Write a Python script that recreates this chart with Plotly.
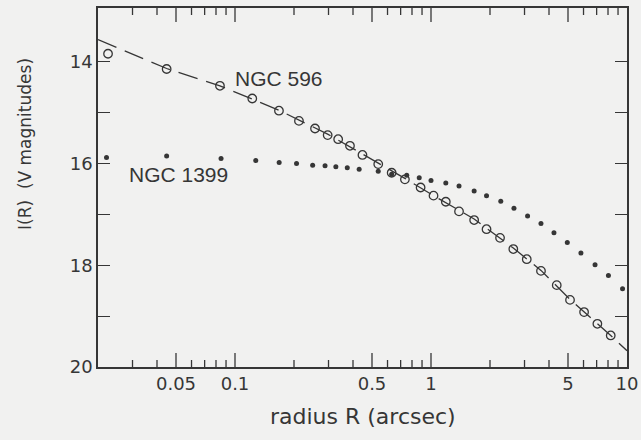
import numpy as np
import plotly.graph_objects as go

# ---- data ----
ngc596_r = [0.0225, 0.0448, 0.0838, 0.1225, 0.1676, 0.212, 0.256, 0.297, 0.336, 0.386, 0.447,
            0.538, 0.63, 0.736, 0.885, 1.03, 1.19, 1.39, 1.66, 1.92, 2.25, 2.63, 3.08, 3.64,
            4.38, 5.12, 6.04, 7.06, 8.26]
ngc596_mag = [13.84, 14.14, 14.47, 14.72, 14.96, 15.16, 15.31, 15.44, 15.52, 15.65, 15.83,
              16.01, 16.18, 16.31, 16.47, 16.63, 16.75, 16.94, 17.11, 17.29, 17.46, 17.68, 17.88, 18.11,
              18.39, 18.68, 18.92, 19.15, 19.38]

fit596_r = [0.02, 0.0448, 0.0838, 0.1676, 0.297, 0.447, 0.736, 1.02, 1.66, 2.63, 3.64, 5.12, 7.06, 8.26, 10.0]
fit596_mag = [13.56, 14.13, 14.47, 14.95, 15.42, 15.81, 16.29, 16.62, 17.09, 17.66, 18.10, 18.67, 19.14, 19.38, 19.68]

ngc1399_r = [0.0221, 0.0448, 0.0849, 0.1276, 0.168, 0.206, 0.249, 0.288, 0.327, 0.374, 0.43,
             0.538, 0.63, 0.752, 0.871, 1.0, 1.19, 1.39, 1.66, 1.92, 2.27, 2.65, 3.11, 3.64,
             4.24, 4.96, 5.82, 6.87, 8.04, 9.49]
ngc1399_mag = [15.88, 15.85, 15.90, 15.94, 15.98, 16.00, 16.03, 16.04, 16.06, 16.08, 16.11,
               16.15, 16.21, 16.23, 16.28, 16.33, 16.38, 16.44, 16.54, 16.63, 16.74, 16.88, 17.03, 17.18,
               17.36, 17.55, 17.76, 17.99, 18.20, 18.46]

x_major = [0.05, 0.1, 0.5, 1, 5, 10]
x_major_text = ["0.05", "0.1", "0.5", "1", "5", "10"]
x_minor = [0.03, 0.04, 0.06, 0.07, 0.08, 0.09, 0.2, 0.3, 0.4, 0.6, 0.7, 0.8, 0.9,
           2, 3, 4, 6, 7, 8, 9]
y_ticks = [14, 15, 16, 17, 18, 19, 20]
y_text = ["14", "", "16", "", "18", "", "20"]

INK = "#363636"
BG = "#f1f1f0"
AG = "DejaVu Sans"
HV = "Liberation Sans, Arial"

L, R, T, B = 98, 14, 8, 73
W, H = 641, 440
pw, ph = W - L - R, H - T - B
xr = [np.log10(0.02), 1.0]
yr = [20, 12.94]
px_per_mag = ph / (yr[0] - yr[1])

# x tick marks (inside, bottom and top) drawn through the axis scales from the tick lists
tick_x, tick_y = [], []
for vals, length_px in ((x_major[:-1], 14), (x_minor, 7)):
    d = length_px / px_per_mag
    for v in vals:
        tick_x += [v, v, None, v, v, None]
        tick_y += [yr[0], yr[0] - d, None, yr[1], yr[1] + d, None]

fig = go.Figure()
fig.add_trace(go.Scatter(x=tick_x, y=tick_y, mode="lines", line=dict(color=INK, width=1.3),
                         showlegend=False, hoverinfo="skip", cliponaxis=False))
fig.add_trace(go.Scatter(x=fit596_r, y=fit596_mag, mode="lines",
                         line=dict(color=INK, width=1.3, dash="20px,9px"),
                         showlegend=False, hoverinfo="skip"))
fig.add_trace(go.Scatter(x=ngc596_r, y=ngc596_mag, mode="markers",
                         marker=dict(symbol="circle-open", size=8.5, color=INK, line=dict(width=1.3, color=INK)),
                         showlegend=False))
fig.add_trace(go.Scatter(x=ngc1399_r, y=ngc1399_mag, mode="markers",
                         marker=dict(symbol="circle", size=5, color=INK),
                         showlegend=False))

fig.update_layout(
    template="none",
    width=W, height=H, autosize=False,
    margin=dict(l=L, r=R, t=T, b=B, pad=0),
    paper_bgcolor=BG, plot_bgcolor=BG,
    xaxis=dict(type="log", range=xr, showgrid=False, zeroline=False,
               showline=True, linecolor=INK, linewidth=1.5, mirror=True,
               ticks="", tickmode="array", tickvals=x_major, ticktext=x_major_text,
               tickfont=dict(family=AG, size=18, color=INK)),
    yaxis=dict(range=yr, showgrid=False, zeroline=False,
               showline=True, linecolor=INK, linewidth=1.5, mirror="allticks",
               ticks="inside", ticklen=12, tickwidth=1.3, tickcolor=INK,
               tickmode="array", tickvals=y_ticks, ticktext=y_text,
               tickfont=dict(family=AG, size=18, color=INK)),
    annotations=[
        dict(text="radius R (arcsec)", xref="paper", yref="paper",
             x=0.5, y=-(416 - (H - B)) / ph, xanchor="center", yanchor="middle",
             showarrow=False, font=dict(family=AG, size=22, color=INK)),
        dict(text="I(R)  (V magnitudes)", xref="paper", yref="paper",
             x=(25 - L) / pw, y=((H - B) - 144) / ph, xanchor="center", yanchor="middle",
             textangle=-90, showarrow=False, font=dict(family=AG, size=17, color=INK)),
        dict(text="NGC 596", xref="x", yref="y", x=np.log10(0.168), y=14.32,
             xanchor="center", yanchor="middle", showarrow=False,
             font=dict(family=HV, size=21, color=INK)),
        dict(text="NGC 1399", xref="x", yref="y", x=np.log10(0.0517), y=16.22,
             xanchor="center", yanchor="middle", showarrow=False,
             font=dict(family=HV, size=21, color=INK)),
    ],
)

fig.write_html("out.html")
